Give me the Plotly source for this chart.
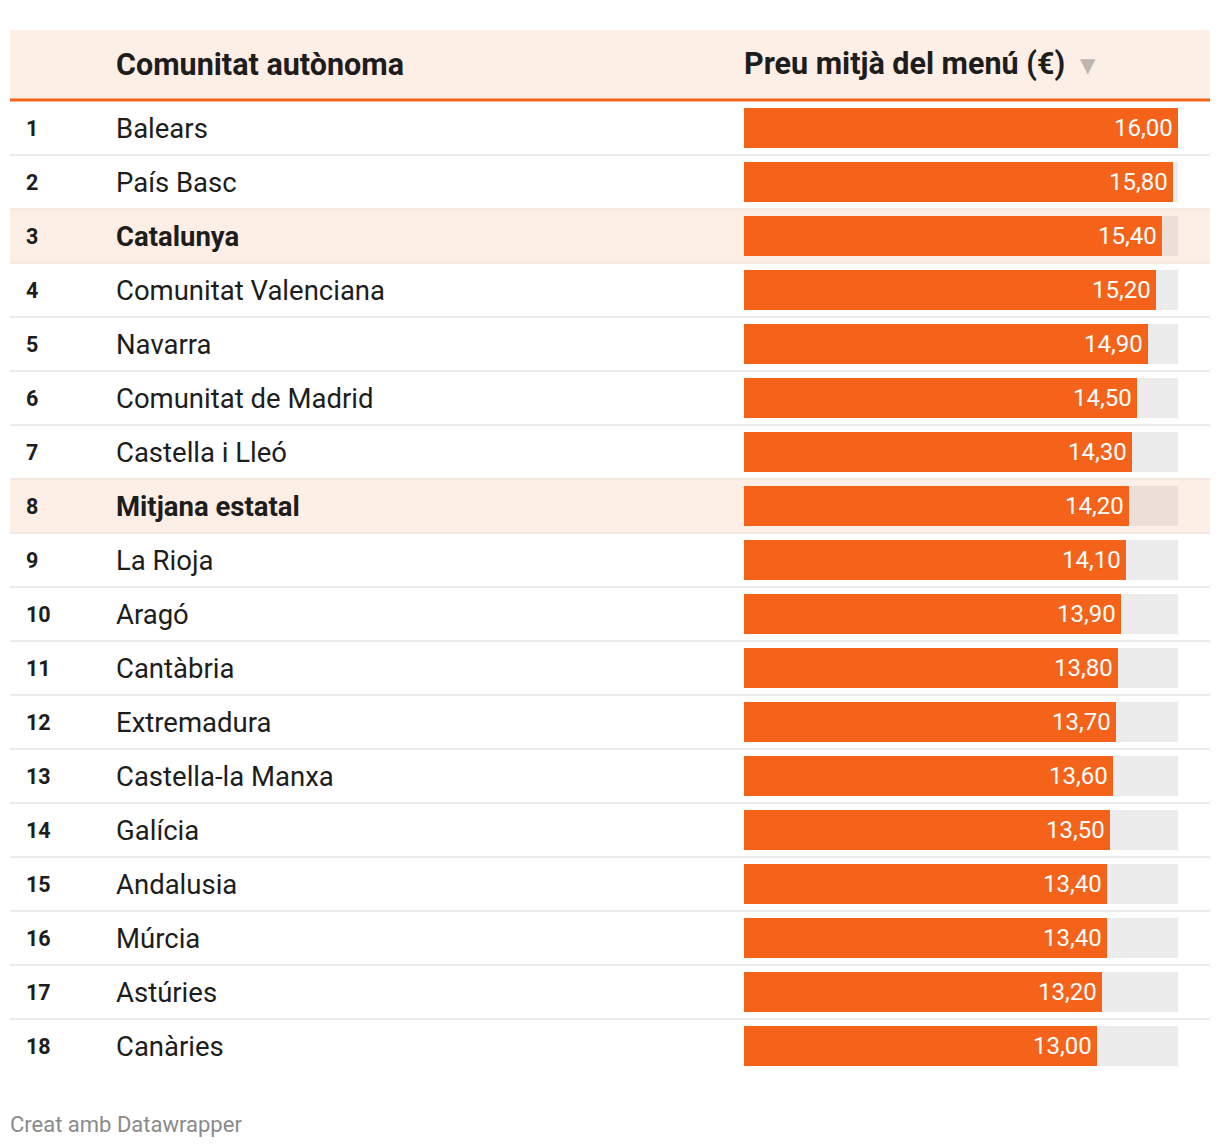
import plotly.graph_objects as go

ranks = list(range(1, 19))
regions = ["Balears", "País Basc", "Catalunya", "Comunitat Valenciana", "Navarra",
           "Comunitat de Madrid", "Castella i Lleó", "Mitjana estatal", "La Rioja",
           "Aragó", "Cantàbria", "Extremadura", "Castella-la Manxa", "Galícia",
           "Andalusia", "Múrcia", "Astúries", "Canàries"]
prices = [16.00, 15.80, 15.40, 15.20, 14.90, 14.50, 14.30, 14.20, 14.10, 13.90,
          13.80, 13.70, 13.60, 13.50, 13.40, 13.40, 13.20, 13.00]
highlighted = ["Catalunya", "Mitjana estatal"]
col_headers = ["Comunitat autònoma", "Preu mitjà del menú (€)"]
footer = "Creat amb Datawrapper"

ORANGE = "#f5631a"
HEAD_BG = "#fdeee6"
GRAY_BG = "#ececec"
HL_BAR_BG = "#ecdfd8"
FONT = "Roboto"

OFF = 8  # page body margin
W, H = 1212, 1140
ROW0, ROWH = 128, 54
def ry(py):
    return (py - ROW0) / ROWH + 1
def px(x):
    return (x - OFF) / W

maxv = max(prices)
is_hl = [r in highlighted for r in regions]

fig = go.Figure()
fig.add_trace(go.Bar(
    x=[maxv] * len(ranks), y=ranks, orientation="h",
    marker=dict(color=[HL_BAR_BG if h else GRAY_BG for h in is_hl], line=dict(width=0)),
    width=40 / ROWH, hoverinfo="skip"))
fig.add_trace(go.Bar(
    x=prices, y=ranks, orientation="h",
    marker=dict(color=ORANGE, line=dict(width=0)),
    width=40 / ROWH, hoverinfo="skip"))

shapes = []
shapes.append(dict(type="rect", xref="paper", yref="y", x0=px(10), x1=px(1210),
                   y0=ry(30), y1=ry(99), fillcolor=HEAD_BG, line=dict(width=0), layer="below"))
shapes.append(dict(type="line", xref="paper", yref="y", x0=px(10), x1=px(1210),
                   y0=ry(100), y1=ry(100), line=dict(color=ORANGE, width=3)))
for r, h in zip(ranks, is_hl):
    if h:
        shapes.append(dict(type="rect", xref="paper", yref="y", x0=px(10), x1=px(1210),
                           y0=r - 0.5, y1=r + 0.5, fillcolor=HEAD_BG, line=dict(width=0),
                           layer="below"))
for i, r in enumerate(ranks[:-1]):
    c = "#f0e2da" if (is_hl[i + 1] or is_hl[i]) else "#e6e6e6"
    shapes.append(dict(type="line", xref="paper", yref="y", x0=px(10), x1=px(1210),
                       y0=r + 0.5, y1=r + 0.5, line=dict(color=c, width=1.5), layer="below"))

ann = []
ann.append(dict(xref="paper", yref="y", x=px(114), y=ry(64), text="<b>" + col_headers[0] + "</b>",
                showarrow=False, xanchor="left", yanchor="middle",
                font=dict(family=FONT, size=30.5, color="#1d1d1d")))
ann.append(dict(xref="paper", yref="y", x=px(742), y=ry(64), text="<b>" + col_headers[1] + "</b>",
                showarrow=False, xanchor="left", yanchor="middle",
                font=dict(family=FONT, size=30.5, color="#1d1d1d")))
ann.append(dict(xref="paper", yref="y", x=px(1078), y=ry(65), text="▼",
                showarrow=False, xanchor="left", yanchor="middle",
                font=dict(family="DejaVu Sans", size=20, color="#bdb5b0")))
for r, name, p, h in zip(ranks, regions, prices, is_hl):
    ann.append(dict(xref="paper", yref="y", x=px(24), y=r, text="<b>%d</b>" % r,
                    showarrow=False, xanchor="left", yanchor="middle",
                    font=dict(family=FONT, size=21.5, color="#1d1d1d")))
    ann.append(dict(xref="paper", yref="y", x=px(114), y=r,
                    text=("<b>%s</b>" % name) if h else name,
                    showarrow=False, xanchor="left", yanchor="middle",
                    font=dict(family=FONT, size=27.5, color="#1d1d1d")))
    ann.append(dict(xref="x", yref="y", x=p, y=r, xshift=-3,
                    text=("%.2f" % p).replace(".", ","),
                    showarrow=False, xanchor="right", yanchor="middle",
                    font=dict(family=FONT, size=24, color="white")))
ann.append(dict(xref="paper", yref="y", x=px(8), y=ry(1124), text=footer,
                showarrow=False, xanchor="left", yanchor="middle",
                font=dict(family=FONT, size=22, color="#8a8a8a")))

fig.update_layout(
    width=W, height=H, margin=dict(l=0, r=0, t=0, b=0),
    paper_bgcolor="white", plot_bgcolor="rgba(0,0,0,0)",
    barmode="overlay", showlegend=False, bargap=0,
    xaxis=dict(domain=[px(744), px(1178)], range=[0, maxv], visible=False, fixedrange=True),
    yaxis=dict(domain=[0, 1], range=[ry(OFF + H), ry(OFF)], visible=False, fixedrange=True),
    shapes=shapes, annotations=ann,
)
fig.write_html("out.html", config={"displayModeBar": False})
